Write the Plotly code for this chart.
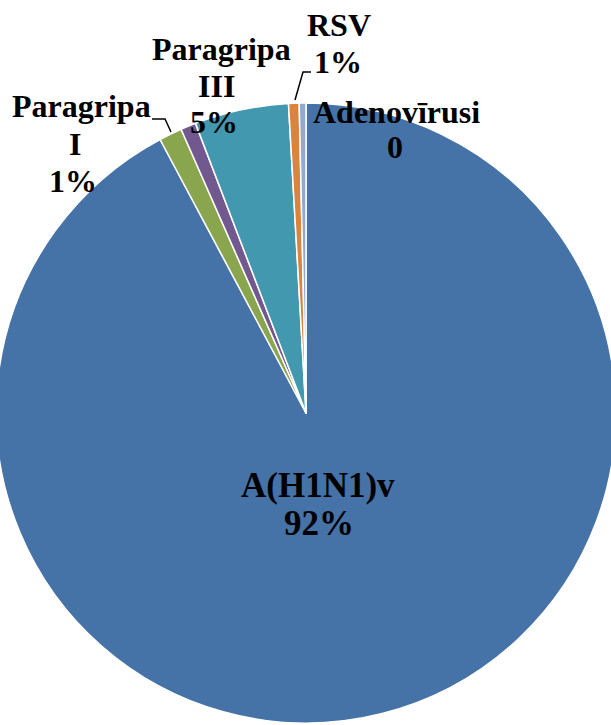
import plotly.graph_objects as go

labels = ["A(H1N1)v", "Paragripa I", "Paragripa II", "Paragripa III", "RSV", "Adenovīrusi"]
values = [92.2, 1.2, 0.8, 4.9, 0.55, 0.35]
colors = ["#4572A7", "#89A54E", "#71588F", "#4198AF", "#DB843D", "#93A9CF"]

VW, H = 611, 725          # visible window
R, CX, CY = 310, 306, 413  # pie radius / centre in window pixels
W = 2 * R                  # figure a bit wider than the window so the pie can be 620 px across
SHIFT = CX - R             # page offset (negative) so the pie centre lands at CX
FONT = "Liberation Serif, Times New Roman, serif"
FS = 32
FS_BIG = 35

def px2x(px):
    return (px - SHIFT) / W

def py2y(py):
    return 1 - py / H

fig = go.Figure(go.Pie(
    labels=labels, values=values, sort=False, direction="clockwise", rotation=0,
    marker=dict(colors=colors, line=dict(color="white", width=1.5)),
    textinfo="none", hoverinfo="label+percent", showlegend=False,
    domain=dict(x=[0, 1], y=[(H - CY - R) / H, (H - CY + R) / H]),
))

# label lines: (text, centre x px, baseline y px, size)
label_lines = [
    ("A(H1N1)v", 318, 497, FS_BIG), ("92%", 319, 535, FS_BIG),
    ("Paragripa", 81, 117, FS), ("I", 75, 155, FS), ("1%", 73, 192, FS),
    ("Paragripa", 221, 60, FS), ("III", 216, 97, FS), ("5%", 214, 133, FS),
    ("RSV", 339, 36, FS), ("1%", 338, 73, FS),
    ("Adenovīrusi", 396, 123, FS), ("0", 395, 158, FS),
]
for t, px, py, fs in label_lines:
    fig.add_annotation(text="<b>%s</b>" % t, x=px2x(px), y=py2y(py - 0.33 * fs),
                       xref="paper", yref="paper", xanchor="center", yanchor="middle",
                       showarrow=False, font=dict(family=FONT, size=fs, color="black"))

leaders = [
    [(152, 119), (165, 119), (171, 132)],
    [(295, 100), (303, 72), (311, 72)],
]
for pts in leaders:
    path = "M " + " L ".join("%f,%f" % (px2x(x), py2y(y)) for x, y in pts)
    fig.add_shape(type="path", path=path, xref="paper", yref="paper",
                  line=dict(color="black", width=1.5))

fig.update_layout(width=W, height=H, margin=dict(l=0, r=0, t=0, b=0),
                  paper_bgcolor="white", plot_bgcolor="white")
fig.write_html("out.html", config={"displayModeBar": False},
               post_script=("document.body.style.margin='0';"
                            "document.body.style.overflow='hidden';"
                            "document.body.style.marginLeft='%dpx';" % SHIFT))
